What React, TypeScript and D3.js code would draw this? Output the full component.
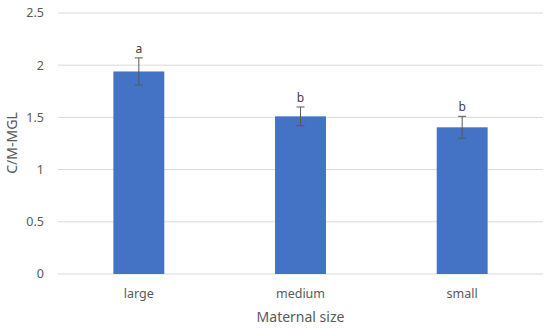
import React from "react";
import * as d3 from "d3";

const categories = ["large", "medium", "small"];
const means = [1.94, 1.51, 1.405];
const errors = [0.13, 0.09, 0.105];
const letters = ["a", "b", "b"];
const yTicks = [0, 0.5, 1, 1.5, 2, 2.5];

const W = 550;
const H = 329;
const margin = { top: 13, right: 7, bottom: 55, left: 58 };
const font = "'Noto Sans', 'Open Sans', sans-serif";

export default function App() {
  const innerW = W - margin.left - margin.right;
  const innerH = H - margin.top - margin.bottom;

  const x = d3.scaleBand().domain(categories).range([0, innerW]).paddingInner(0.685).paddingOuter(0.3425);
  const y = d3.scaleLinear().domain([0, 2.5]).range([innerH, 0]);

  return (
    <svg width={W} height={H} style={{ position: "absolute", left: 0, top: 0, background: "#fff" }} fontFamily={font}>
      <g transform={`translate(${margin.left},${margin.top})`}>
        {yTicks.map(t => (
          <g key={t}>
            <line x1={0} x2={innerW} y1={y(t)} y2={y(t)} stroke="#d9d9d9" strokeWidth={1} />
            <text x={-14} y={y(t)} dy="0.35em" textAnchor="end" fontSize={12.5} fill="#595959">{t}</text>
          </g>
        ))}
        {categories.map((c, i) => {
          const cx = (x(c) as number) + x.bandwidth() / 2;
          const top = y(means[i] + errors[i]);
          const bot = y(means[i] - errors[i]);
          return (
            <g key={c}>
              <rect x={x(c)} y={y(means[i])} width={x.bandwidth()} height={innerH - y(means[i])} fill="#4472C4" />
              <line x1={cx} x2={cx} y1={top} y2={bot} stroke="#595959" strokeWidth={1} />
              <line x1={cx - 4} x2={cx + 4} y1={top} y2={top} stroke="#595959" strokeWidth={1} />
              <line x1={cx - 4} x2={cx + 4} y1={bot} y2={bot} stroke="#595959" strokeWidth={1} />
              <text x={cx} y={top - 5} textAnchor="middle" fontSize={12} fill="#404040">{letters[i]}</text>
              <text x={cx} y={innerH + 24} textAnchor="middle" fontSize={12.5} fill="#595959">{c}</text>
            </g>
          );
        })}
        <text x={innerW / 2} y={innerH + 48} textAnchor="middle" fontSize={14} fill="#595959">Maternal size</text>
      </g>
      <text transform={`translate(17,${margin.top + 130}) rotate(-90)`} textAnchor="middle" fontSize={14} fill="#595959">C/M-MGL</text>
    </svg>
  );
}
